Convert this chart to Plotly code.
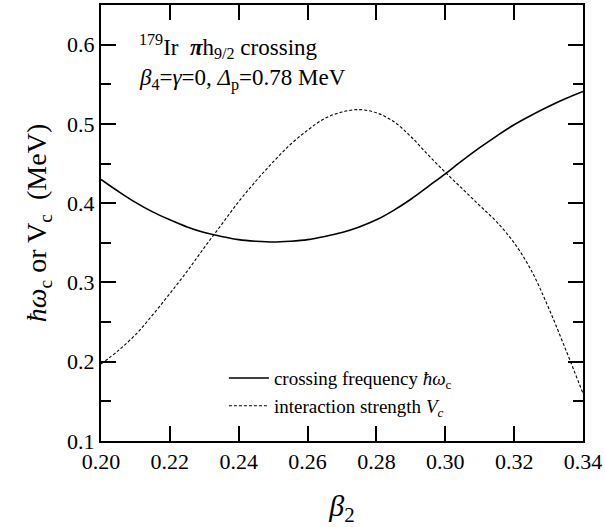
import plotly.graph_objects as go

# Deformation parameter beta_2
beta2 = [0.200, 0.205, 0.210, 0.215, 0.220, 0.225, 0.230, 0.235, 0.240, 0.245,
         0.250, 0.255, 0.260, 0.265, 0.270, 0.275, 0.280, 0.285, 0.290, 0.295,
         0.300, 0.305, 0.310, 0.315, 0.320, 0.325, 0.330, 0.335, 0.340]

# Crossing frequency hbar*omega_c (MeV)
crossing_freq = [0.430, 0.415, 0.401, 0.389, 0.379, 0.370, 0.363, 0.358, 0.354, 0.352,
                 0.351, 0.352, 0.354, 0.358, 0.363, 0.370, 0.379, 0.391, 0.405, 0.421,
                 0.437, 0.454, 0.470, 0.485, 0.499, 0.511, 0.522, 0.532, 0.541]

# Interaction strength V_c (MeV)
interaction = [0.197, 0.214, 0.234, 0.259, 0.286, 0.314, 0.344, 0.373, 0.402, 0.428,
               0.452, 0.474, 0.492, 0.507, 0.515, 0.518, 0.514, 0.503, 0.484, 0.461,
               0.439, 0.418, 0.397, 0.376, 0.350, 0.315, 0.268, 0.215, 0.160]

x_ticks = [0.20, 0.22, 0.24, 0.26, 0.28, 0.30, 0.32, 0.34]
y_ticks = [0.1, 0.2, 0.3, 0.4, 0.5, 0.6]

SERIF = "Liberation Serif, Times New Roman, serif"

fig = go.Figure()
fig.add_trace(go.Scatter(
    x=beta2, y=crossing_freq, mode="lines", line_shape="spline",
    line=dict(color="black", width=1.6),
    name="crossing frequency <i>ħω</i><sub>c</sub>",
))
fig.add_trace(go.Scatter(
    x=beta2, y=interaction, mode="lines", line_shape="spline",
    line=dict(color="black", width=1.1, dash="3px,2px"),
    name="interaction strength <i>V<sub>c</sub></i>",
))

axis_common = dict(
    showline=True, linecolor="black", linewidth=2, mirror="allticks",
    ticks="inside", tickwidth=2, tickcolor="black",
    showgrid=False, zeroline=False, ticklabeloverflow="allow",
    tickfont=dict(family=SERIF, size=22, color="black"),
)

fig.update_xaxes(
    range=[0.20, 0.34], tickvals=x_ticks, tickformat=".2f", ticklen=15,
    title=dict(text="<i>β</i><sub>2</sub>", font=dict(family=SERIF, size=30, color="black"), standoff=22),
    **axis_common,
)
fig.update_yaxes(
    range=[0.1, 0.65], tickvals=y_ticks, tickformat=".1f", ticklen=15,
    minor=dict(dtick=0.05, tick0=0.1, ticks="inside", ticklen=10, tickwidth=2, tickcolor="black"),
    title=dict(text="<i>ħω</i><sub>c</sub> or V<sub>c</sub>  (MeV)", font=dict(family=SERIF, size=28, color="black"), standoff=12),
    **axis_common,
)

fig.add_annotation(
    xref="paper", yref="paper", x=0.075, y=0.905, xanchor="left", yanchor="middle",
    text="<sup>179</sup>Ir  <i><b>π</b></i>h<sub>9/2</sub> crossing", showarrow=False,
    font=dict(family=SERIF, size=23, color="black"),
)
fig.add_annotation(
    xref="paper", yref="paper", x=0.075, y=0.83, xanchor="left", yanchor="middle",
    text="<i>β</i><sub>4</sub>=<i>γ</i>=0, <i>Δ</i><sub>p</sub>=0.78 MeV", showarrow=False,
    font=dict(family=SERIF, size=23, color="black"),
)

fig.update_layout(
    width=605, height=527,
    margin=dict(l=101, r=19, t=3, b=86),
    paper_bgcolor="white", plot_bgcolor="white",
    showlegend=True,
    legend=dict(
        x=0.255, y=0.112, xanchor="left", yanchor="middle",
        bgcolor="rgba(0,0,0,0)", borderwidth=0,
        font=dict(family=SERIF, size=19, color="black"),
        tracegroupgap=0, itemwidth=40,
    ),
)

fig.write_html("out.html")
